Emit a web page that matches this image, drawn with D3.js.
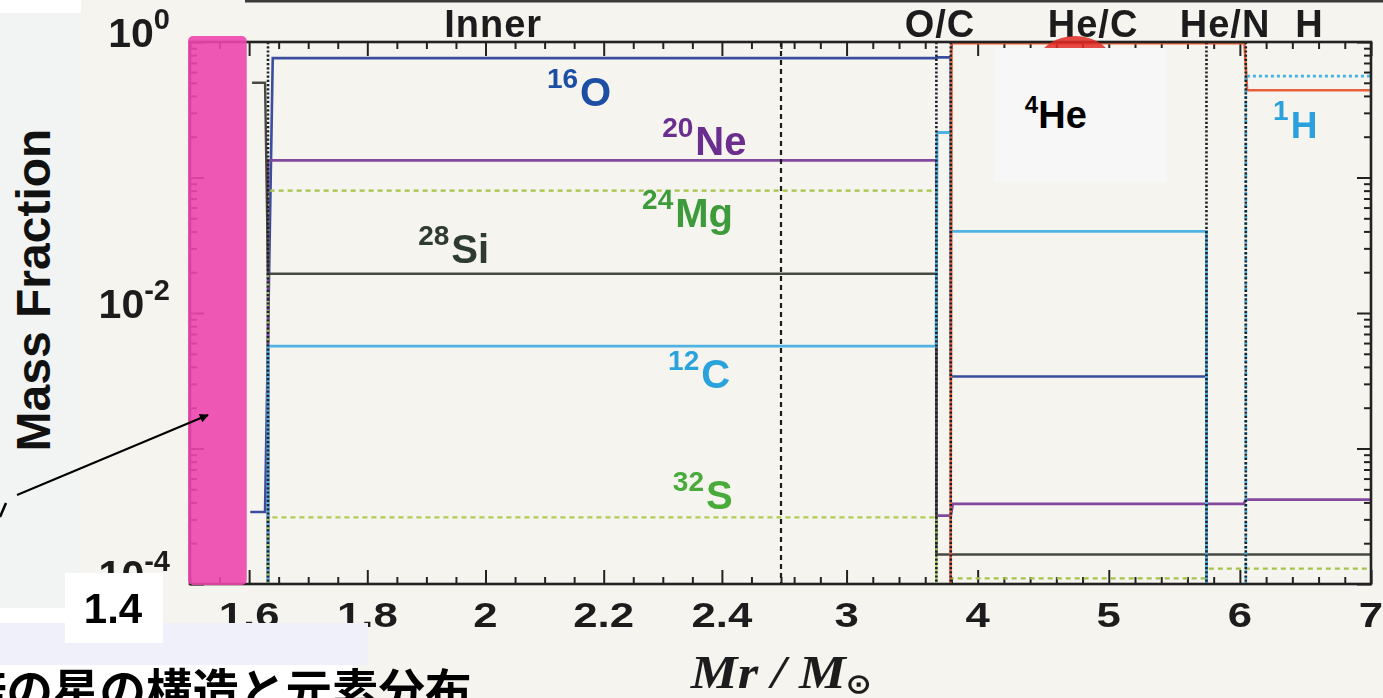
<!DOCTYPE html>
<html>
<head>
<meta charset="utf-8">
<script src="https://cdn.jsdelivr.net/npm/d3@7"></script>
<style>
  html, body { margin: 0; padding: 0; background: #f6f4ee; overflow: hidden; }
  svg { display: block; }
</style>
</head>
<body>
<svg id="chart" width="1383" height="698"></svg>
<script>
// ---- zones of the pre-supernova star (mass coordinate, solar masses) ----
const zoneNames     = ["Inner", "O/C", "He/C", "He/N", "H"];
const zoneLabelMass = [2.013, 3.713, 4.88, 5.887, 6.53];
const zoneEdges     = [1.632, 3.685, 3.795, 5.745, 6.045];
const scaleBreak    = 2.5;     // the axis changes scale here
const coreEdge      = 1.596;   // right edge of the highlighted Fe core

// ---- axis ticks ----
const xTickMajor  = [1.6, 1.8, 2.0, 2.2, 2.4, 3, 4, 5, 6, 7];
const xTickLabels = ["1.6", "1.8", "2", "2.2", "2.4", "3", "4", "5", "6", "7"];
const yLabelValues = [1, 1e-2, 1e-4];
const yLabelExps   = ["0", "-2", "-4"];
const yDecades     = [1e-4, 1e-3, 1e-2, 1e-1, 1];

// ---- mass-fraction profiles: [Mr/Msun, X] breakpoints ----
const o16  = [[1.602, 3.4e-4], [1.627, 3.4e-4], [1.640, 0.76], [3.685, 0.76], [3.688, 0.77], [3.795, 0.77], [3.795, 3.4e-3], [5.745, 3.4e-3], [5.745, 1e-6]];
const ne20 = [[1.632, 1e-6], [1.632, 0.134], [3.685, 0.134], [3.685, 3.2e-4], [3.795, 3.2e-4], [3.810, 3.9e-4], [6.030, 3.9e-4], [6.045, 4.2e-4], [7.0, 4.2e-4]];
const mg24 = [[1.632, 1e-6], [1.632, 0.080], [3.685, 0.080], [3.685, 1e-6], [3.795, 1e-6], [3.795, 1.1e-4], [5.745, 1.1e-4], [5.745, 1.3e-4], [7.0, 1.3e-4]];
const si28 = [[1.605, 0.50], [1.627, 0.50], [1.632, 0.0195], [3.685, 0.0195], [3.685, 1.65e-4], [7.0, 1.65e-4]];
const c12  = [[1.632, 1e-6], [1.632, 5.7e-3], [3.683, 5.7e-3], [3.690, 0.215], [3.795, 0.215], [3.795, 0.040], [5.745, 0.040], [5.745, 1e-6]];
const s32  = [[1.632, 1e-6], [1.632, 3.1e-4], [3.685, 3.1e-4], [3.685, 1e-6]];
const he4  = [[3.790, 1e-6], [3.800, 0.98], [6.035, 0.98], [6.055, 0.44], [7.0, 0.44]];
const h1   = [[6.045, 1e-6], [6.045, 0.56], [7.0, 0.56]];

// ---- isotope labels: mass number, symbol, anchor (Mr, X) ----
const isoMass   = ["16", "20", "24", "28", "12", "32", "1"];
const isoSymbol = ["O", "Ne", "Mg", "Si", "C", "S", "H"];
const isoAtMr   = [2.104, 2.299, 2.265, 1.886, 2.309, 2.317, 6.253];
const isoAtX    = [0.337, 0.147, 0.043, 0.0234, 0.0028, 3.6e-4, 0.196];

const species = [
  { data: o16,  color: "#3a4d9e", dash: null,  width: 2.6 },
  { data: ne20, color: "#83489e", dash: null,  width: 2.8 },
  { data: mg24, color: "#a3c44a", dash: "5,4", width: 2.3 },
  { data: si28, color: "#474a45", dash: null,  width: 2.4 },
  { data: c12,  color: "#4fb2e3", dash: null,  width: 2.9 },
  { data: s32,  color: "#afcb52", dash: "5,4", width: 2.3 },
  { data: he4,  color: "#e8603a", dash: null,  width: 2.6 },
  { data: h1,   color: "#42b3e4", dash: "3,3", width: 2.8 }
];
const isoColors = ["#1e4fa3", "#6b2d8f", "#3c9b3a", "#2f3a30", "#29a3dd", "#4aab3a", "#2aa0dc"];

// ---- layout ----
const W = 1383, H = 698;
const plot = { left: 190, right: 1371, top: 42, bottom: 584 };

const x = d3.scaleLinear().domain([1.5, scaleBreak, 7]).range([plot.left, 781, plot.right]);
const y = d3.scaleLog().domain([1e-4, 1]).range([plot.bottom, plot.top]);

const svg = d3.select("#chart");
const defs = svg.append("defs");

defs.append("clipPath").attr("id", "plotClip")
  .append("rect")
  .attr("x", plot.left).attr("y", plot.top - 2)
  .attr("width", plot.right - plot.left).attr("height", plot.bottom - plot.top + 2);

defs.append("filter").attr("id", "soft")
  .append("feGaussianBlur").attr("stdDeviation", 0.5);

defs.append("marker").attr("id", "arrowHead")
  .attr("viewBox", "0 0 10 10").attr("refX", 9).attr("refY", 5)
  .attr("markerWidth", 10).attr("markerHeight", 9).attr("markerUnits", "userSpaceOnUse")
  .attr("orient", "auto")
  .append("path").attr("d", "M0,0 L10,5 L0,10 z").attr("fill", "#000");

svg.append("rect").attr("width", W).attr("height", H).attr("fill", "#f6f4ee");
svg.append("line").attr("x1", 245).attr("x2", W).attr("y1", 1).attr("y2", 1)
  .attr("stroke", "#3a3a3a").attr("stroke-width", 3);

const scan = svg.append("g").attr("filter", "url(#soft)");

// ---- ticks (inward on all four sides) ----
const xMinor = d3.range(1.5, 2.5001, 0.05).concat(d3.range(2.6, 7.0001, 0.2))
  .filter(v => !xTickMajor.some(m => Math.abs(m - v) < 1e-6));
const yMinor = [];
yDecades.slice(0, -1).forEach(d => { for (let k = 2; k <= 9; k++) yMinor.push(d * k); });

function styleAxis(g) {
  g.select(".domain").remove();
  g.selectAll("line").attr("stroke", "#222").attr("stroke-width", 2);
}
const axes = [
  [d3.axisBottom(x).tickValues(xMinor).tickSize(-7), `translate(0,${plot.bottom})`],
  [d3.axisBottom(x).tickValues(xTickMajor).tickSize(-14), `translate(0,${plot.bottom})`],
  [d3.axisTop(x).tickValues(xMinor).tickSize(-7), `translate(0,${plot.top})`],
  [d3.axisTop(x).tickValues(xTickMajor).tickSize(-14), `translate(0,${plot.top})`],
  [d3.axisLeft(y).tickValues(yMinor).tickSize(-7), `translate(${plot.left},0)`],
  [d3.axisLeft(y).tickValues(yDecades).tickSize(-14), `translate(${plot.left},0)`],
  [d3.axisRight(y).tickValues(yMinor).tickSize(-7), `translate(${plot.right},0)`],
  [d3.axisRight(y).tickValues(yDecades).tickSize(-14), `translate(${plot.right},0)`]
];
axes.forEach(([ax, tr]) => {
  scan.append("g").attr("transform", tr).call(ax.tickFormat("").tickSizeOuter(0)).call(styleAxis);
});

// ---- zone boundaries and scale break ----
const lines = scan.append("g").attr("clip-path", "url(#plotClip)");

// ---- abundance profiles ----
const lineGen = d3.line().x(d => x(d[0])).y(d => y(d[1]));
lines.selectAll(".profile").data(species).join("path")
  .attr("d", d => lineGen(d.data))
  .attr("fill", "none")
  .attr("stroke", d => d.color)
  .attr("stroke-width", d => d.width)
  .attr("stroke-dasharray", d => d.dash);

lines.selectAll(".edge").data(zoneEdges).join("line")
  .attr("x1", d => x(d)).attr("x2", d => x(d))
  .attr("y1", plot.top).attr("y2", plot.bottom)
  .attr("stroke", "#1f2329").attr("stroke-width", 2.6).attr("stroke-dasharray", "2.2,2");
lines.append("line")
  .attr("x1", x(scaleBreak)).attr("x2", x(scaleBreak))
  .attr("y1", plot.top).attr("y2", plot.bottom)
  .attr("stroke", "#1e1e1e").attr("stroke-width", 2.2).attr("stroke-dasharray", "5,4");

// ---- frame ----
scan.append("rect")
  .attr("x", plot.left).attr("y", plot.top)
  .attr("width", plot.right - plot.left).attr("height", plot.bottom - plot.top)
  .attr("fill", "none").attr("stroke", "#222").attr("stroke-width", 2.6);

const FONT = "'Liberation Sans', Arial, Helvetica, sans-serif";

// ---- tick labels ----
xTickMajor.forEach((v, i) => {
  scan.append("g").attr("transform", `translate(${x(v)},627) scale(1.25,1)`)
    .append("text").attr("text-anchor", "middle")
    .attr("font-family", FONT).attr("font-weight", "bold").attr("font-size", 35)
    .attr("fill", "#1e1e1e").text(xTickLabels[i]);
});
yLabelValues.forEach((v, i) => {
  const t = scan.append("text").attr("x", 170).attr("y", y(v) + 5)
    .attr("text-anchor", "end").attr("font-family", FONT).attr("font-weight", "bold")
    .attr("font-size", 41).attr("fill", "#1e1e1e");
  t.append("tspan").text("10");
  t.append("tspan").attr("font-size", 29).attr("dy", -18).text(yLabelExps[i]);
});

// ---- zone names along the top ----
zoneNames.forEach((n, i) => {
  scan.append("text").attr("x", x(zoneLabelMass[i])).attr("y", 37)
    .attr("text-anchor", "middle").attr("font-family", FONT).attr("font-weight", "bold")
    .attr("font-size", 38).attr("letter-spacing", 1).attr("fill", "#1e1e1e").text(n);
});

// ---- isotope labels ----
isoSymbol.forEach((s, i) => {
  const t = scan.append("text").attr("x", x(isoAtMr[i])).attr("y", y(isoAtX[i]))
    .attr("font-family", FONT).attr("font-weight", "bold").attr("fill", isoColors[i]);
  t.append("tspan").attr("font-size", 28).attr("dy", -18).text(isoMass[i]);
  t.append("tspan").attr("font-size", i === 6 ? 37 : 40).attr("dy", 18).attr("dx", 2).text(s);
});

// ---- x-axis title ----
const xt = scan.append("g").attr("transform", `translate(${x(scaleBreak)},688) scale(1.12,1)`)
  .append("text").attr("text-anchor", "middle")
  .attr("font-family", "'Liberation Serif', 'Times New Roman', serif")
  .attr("font-weight", "bold").attr("font-style", "italic").attr("font-size", 47).attr("fill", "#1e1e1e");
xt.append("tspan").text("Mr / M");
xt.append("tspan").attr("font-size", 27).attr("font-style", "normal").attr("dy", 5).text("⊙");

// ---- annotations ----
const notes = svg.append("g");

// Fe core highlight
notes.append("rect")
  .attr("x", plot.left - 2).attr("y", plot.top - 6)
  .attr("width", x(coreEdge) - plot.left + 2).attr("height", plot.bottom - plot.top + 7)
  .attr("rx", 5).attr("fill", "#ee46ae").attr("opacity", 0.9);

// red marker near the He/C label
notes.append("ellipse").attr("cx", x(4.743)).attr("cy", 61).attr("rx", 36).attr("ry", 25)
  .attr("fill", "#e02a26").attr("opacity", 0.85);

// 4He label box
const heBox = notes.append("g");
heBox.append("rect").attr("x", x(4.125)).attr("y", y(0.903))
  .attr("width", x(5.44) - x(4.125)).attr("height", y(0.093) - y(0.903)).attr("fill", "#f7f7f7");
const heT = heBox.append("text").attr("x", x(4.36)).attr("y", y(0.232))
  .attr("font-family", FONT).attr("font-weight", "bold").attr("fill", "#000");
heT.append("tspan").attr("font-size", 24).attr("dy", -15).text("4");
heT.append("tspan").attr("font-size", 38).attr("dy", 15).text("He");

// left panel with the y-axis title
notes.append("rect").attr("x", 0).attr("y", 0).attr("width", 81).attr("height", 13).attr("fill", "#ffffff");
notes.append("rect").attr("x", 0).attr("y", 13).attr("width", 81).attr("height", 595).attr("fill", "#f2f4f4");
notes.append("text").attr("transform", "translate(50,290) rotate(-90)")
  .attr("text-anchor", "middle").attr("font-family", FONT).attr("font-weight", "bold")
  .attr("font-size", 48).attr("fill", "#111").text("Mass Fraction");

// arrow to the core
notes.append("line").attr("x1", 17).attr("y1", 495).attr("x2", 208).attr("y2", 415)
  .attr("stroke", "#000").attr("stroke-width", 2).attr("marker-end", "url(#arrowHead)");
notes.append("line").attr("x1", 0).attr("y1", 517).attr("x2", 6).attr("y2", 503)
  .attr("stroke", "#000").attr("stroke-width", 2.5);

// bottom-left caption boxes
notes.append("rect").attr("x", 0).attr("y", 623).attr("width", 368).attr("height", 42).attr("fill", "#f0f0fb");
notes.append("rect").attr("x", 0).attr("y", 608).attr("width", 163).attr("height", 15).attr("fill", "#ffffff");
notes.append("rect").attr("x", 65).attr("y", 573).attr("width", 98).attr("height", 70).attr("fill", "#ffffff");
notes.append("text").attr("x", 113).attr("y", 623).attr("text-anchor", "middle")
  .attr("font-family", FONT).attr("font-weight", "bold").attr("font-size", 42).attr("fill", "#000").text("1.4");
notes.append("rect").attr("x", 0).attr("y", 665).attr("width", 353).attr("height", 33).attr("fill", "#ffffff");
notes.append("text").attr("x", -40).attr("y", 708)
  .attr("font-family", "'Noto Sans CJK JP', sans-serif").attr("font-weight", "bold")
  .attr("font-size", 46.5).attr("fill", "#000").text("倍の星の構造と元素分布");
</script>
</body>
</html>
